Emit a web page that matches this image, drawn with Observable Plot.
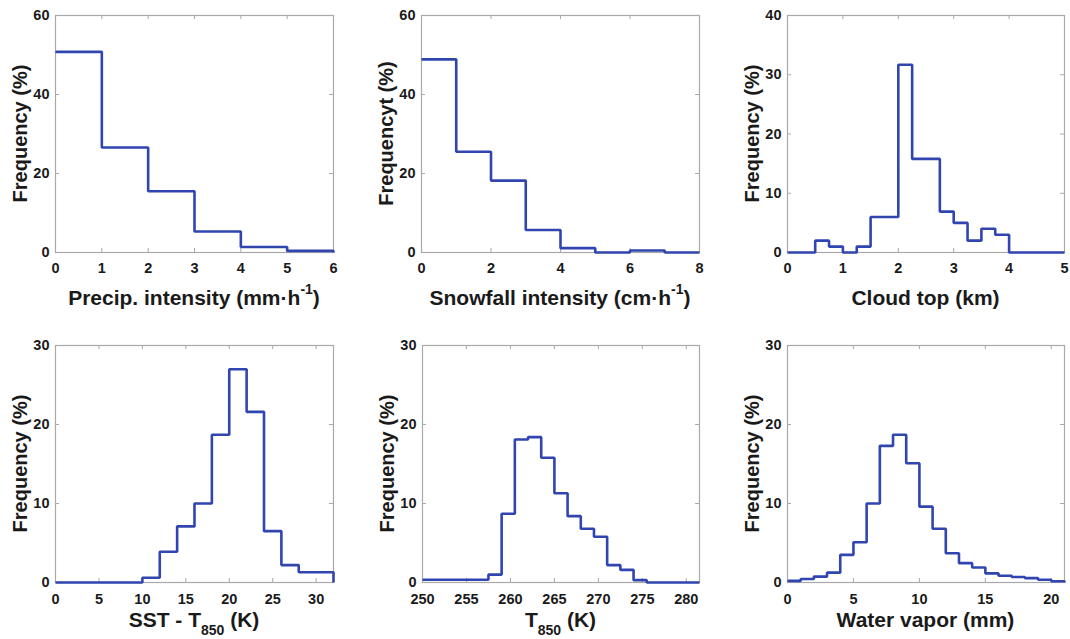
<!DOCTYPE html>
<html><head><meta charset="utf-8">
<script src="https://cdn.jsdelivr.net/npm/d3@7"></script>
<script src="https://cdn.jsdelivr.net/npm/@observablehq/plot@0.6"></script>
<style>
body{margin:0;background:#fff;}
#wrap{position:relative;width:1070px;height:639px;overflow:hidden;background:#fff;}
#wrap svg{position:absolute;}
</style></head><body><div id="wrap"></div>
<script>
// ---- data (bin edges and frequencies, %) ----
const precipEdges = [0,1,2,3,4,5,6];
const precipFreq  = [50.8,26.6,15.5,5.3,1.4,0.4];
const precipXTicks = [0,1,2,3,4,5,6];
const precipYTicks = [0,20,40,60];

const snowEdges = [0,1,2,3,4,5,6,7,8];
const snowFreq  = [48.9,25.5,18.2,5.7,1.1,0,0.5,0];
const snowXTicks = [0,2,4,6,8];
const snowYTicks = [0,20,40,60];

const cloudEdges = [0,0.25,0.5,0.75,1,1.25,1.5,1.75,2,2.25,2.5,2.75,3,3.25,3.5,3.75,4,4.25,4.5,4.75,5];
const cloudFreq  = [0,0,2.0,1.0,0,1.0,6.0,6.0,31.7,15.8,15.8,6.9,5.0,2.0,4.0,3.0,0,0,0,0];
const cloudXTicks = [0,1,2,3,4,5];
const cloudYTicks = [0,10,20,30,40];

const sstEdges = [0,2,4,6,8,10,12,14,16,18,20,22,24,26,28,30,32];
const sstFreq  = [0,0,0,0,0,0.6,3.9,7.1,10.0,18.7,27.0,21.6,6.5,2.2,1.3,1.3];
const sstXTicks = [0,5,10,15,20,25,30];
const sstYTicks = [0,10,20,30];

const t850Edges = [250,251.5,253,254.5,256,257.5,259,260.5,262,263.5,265,266.5,268,269.5,271,272.5,274,275.5,277,278.5,280,281.5];
const t850Freq  = [0.35,0.35,0.35,0.35,0.35,1.0,8.7,18.1,18.4,15.8,11.3,8.4,6.8,5.8,2.2,1.6,0.3,0,0,0,0];
const t850XTicks = [250,255,260,265,270,275,280];
const t850YTicks = [0,10,20,30];

const wvEdges = [0,1,2,3,4,5,6,7,8,9,10,11,12,13,14,15,16,17,18,19,20,21];
const wvFreq  = [0.2,0.45,0.75,1.25,3.5,5.1,10.0,17.3,18.7,15.1,9.6,6.8,3.7,2.45,1.9,1.15,0.85,0.7,0.55,0.35,0.15];
const wvXTicks = [0,5,10,15,20];
const wvYTicks = [0,10,20,30];

// ---- panel definitions ----
const panels = [
  {edges: precipEdges, freq: precipFreq, xt: precipXTicks, yt: precipYTicks, xd:[0,6], yd:[0,60],
   xlabel: ["Precip. intensity (mm·h", "-1", ")"], sub:false, ylabel: "Frequency (%)", left:0, top:0, w:360, h:320, ml:55, mr:27, mt:15, mb:68},
  {edges: snowEdges, freq: snowFreq, xt: snowXTicks, yt: snowYTicks, xd:[0,8], yd:[0,60],
   xlabel: ["Snowfall intensity (cm·h", "-1", ")"], sub:false, ylabel: "Frequencyt (%)", left:360, top:0, w:360, h:320, ml:61, mr:21, mt:15, mb:68},
  {edges: cloudEdges, freq: cloudFreq, xt: cloudXTicks, yt: cloudYTicks, xd:[0,5], yd:[0,40],
   xlabel: ["Cloud top (km)"], sub:false, ylabel: "Frequency (%)", left:720, top:0, w:350, h:320, ml:67, mr:6, mt:15, mb:68},
  {edges: sstEdges, freq: sstFreq, xt: sstXTicks, yt: sstYTicks, xd:[0,32], yd:[0,30],
   xlabel: ["SST - T", "850", " (K)"], sub:true, ylabel: "Frequency (%)", left:0, top:320, w:360, h:319, ml:55, mr:27, mt:25, mb:57},
  {edges: t850Edges, freq: t850Freq, xt: t850XTicks, yt: t850YTicks, xd:[250,281.5], yd:[0,30],
   xlabel: ["T", "850", " (K)"], sub:true, ylabel: "Frequency (%)", left:360, top:320, w:360, h:319, ml:62, mr:21, mt:25, mb:57},
  {edges: wvEdges, freq: wvFreq, xt: wvXTicks, yt: wvYTicks, xd:[0,21], yd:[0,30],
   xlabel: ["Water vapor (mm)"], sub:false, ylabel: "Frequency (%)", left:720, top:320, w:350, h:319, ml:67, mr:6, mt:25, mb:57}
];

const LINE = "#3045b0";
const GRID = "#a9a9a9";
const FONT = "'Liberation Sans', Arial, Helvetica, sans-serif";
const wrap = document.getElementById("wrap");

for (const p of panels) {
  const n = p.freq.length;
  const pts = p.edges.map((e, i) => ({x: e, y: i < n ? p.freq[i] : p.freq[n - 1]}));
  pts.push({x: p.edges[n], y: 0});
  const fw = p.w - p.ml - p.mr, fh = p.h - p.mt - p.mb;
  const tl = 4;
  const svg = Plot.plot({
    width: p.w, height: p.h,
    marginLeft: p.ml, marginRight: p.mr, marginTop: p.mt, marginBottom: p.mb,
    style: {fontFamily: FONT, fontSize: "14.5px", fontWeight: "bold", color: "#1a1a1a", background: "transparent", overflow: "visible"},
    x: {domain: p.xd, axis: null},
    y: {domain: p.yd, axis: null},
    marks: [
      Plot.tickX(p.xt, {x: d => d, stroke: GRID, insetTop: fh - tl}),
      Plot.tickX(p.xt, {x: d => d, stroke: GRID, insetBottom: fh - tl}),
      Plot.tickY(p.yt, {y: d => d, stroke: GRID, insetRight: fw - tl}),
      Plot.tickY(p.yt, {y: d => d, stroke: GRID, insetLeft: fw - tl}),
      Plot.frame({stroke: GRID, strokeWidth: 1.2}),
      Plot.line(pts, {x: "x", y: "y", curve: "step-after", stroke: LINE, strokeWidth: 2.6, strokeLinejoin: "miter", strokeLinecap: "butt"}),
      Plot.axisX(p.xt, {anchor: "bottom", tickSize: 0, tickPadding: p.top ? 11 : 10, label: null, tickFormat: d => String(d), fontSize: 14.5, fontWeight: "bold", fill: "#1a1a1a"}),
      Plot.axisY(p.yt, {anchor: "left", tickSize: 0, tickPadding: 6, label: null, tickFormat: d => String(d), fontSize: 14.5, fontWeight: "bold", fill: "#1a1a1a"})
    ]
  });
  svg.style.left = p.left + "px";
  svg.style.top = p.top + "px";
  const s = d3.select(svg);
  // x label
  const cx = p.ml + fw / 2;
  const base = p.top ? p.h - p.mb + 45 : p.h - p.mb + 53;
  const xt = s.append("text").attr("x", cx).attr("y", base).attr("text-anchor", "middle")
    .attr("font-family", FONT).attr("font-size", 21).attr("font-weight", "bold").attr("fill", "#1a1a1a");
  if (p.xlabel.length === 1) {
    xt.text(p.xlabel[0]);
  } else if (p.sub) {
    xt.append("tspan").text(p.xlabel[0]);
    xt.append("tspan").attr("dy", 8).attr("font-size", 14).text(p.xlabel[1]);
    xt.append("tspan").attr("dy", -8).text(p.xlabel[2]);
  } else {
    xt.append("tspan").text(p.xlabel[0]);
    xt.append("tspan").attr("dy", -11).attr("font-size", 14).text(p.xlabel[1]);
    xt.append("tspan").attr("dy", 11).text(p.xlabel[2]);
  }
  // y label
  const cy = p.mt + fh / 2;
  const bx = p.ml - 28;
  s.append("text").attr("transform", `translate(${bx},${cy}) rotate(-90)`).attr("text-anchor", "middle")
    .attr("font-family", FONT).attr("font-size", 20).attr("font-weight", "bold").attr("fill", "#1a1a1a")
    .text(p.ylabel);
  wrap.appendChild(svg);
}
</script>
</body></html>
